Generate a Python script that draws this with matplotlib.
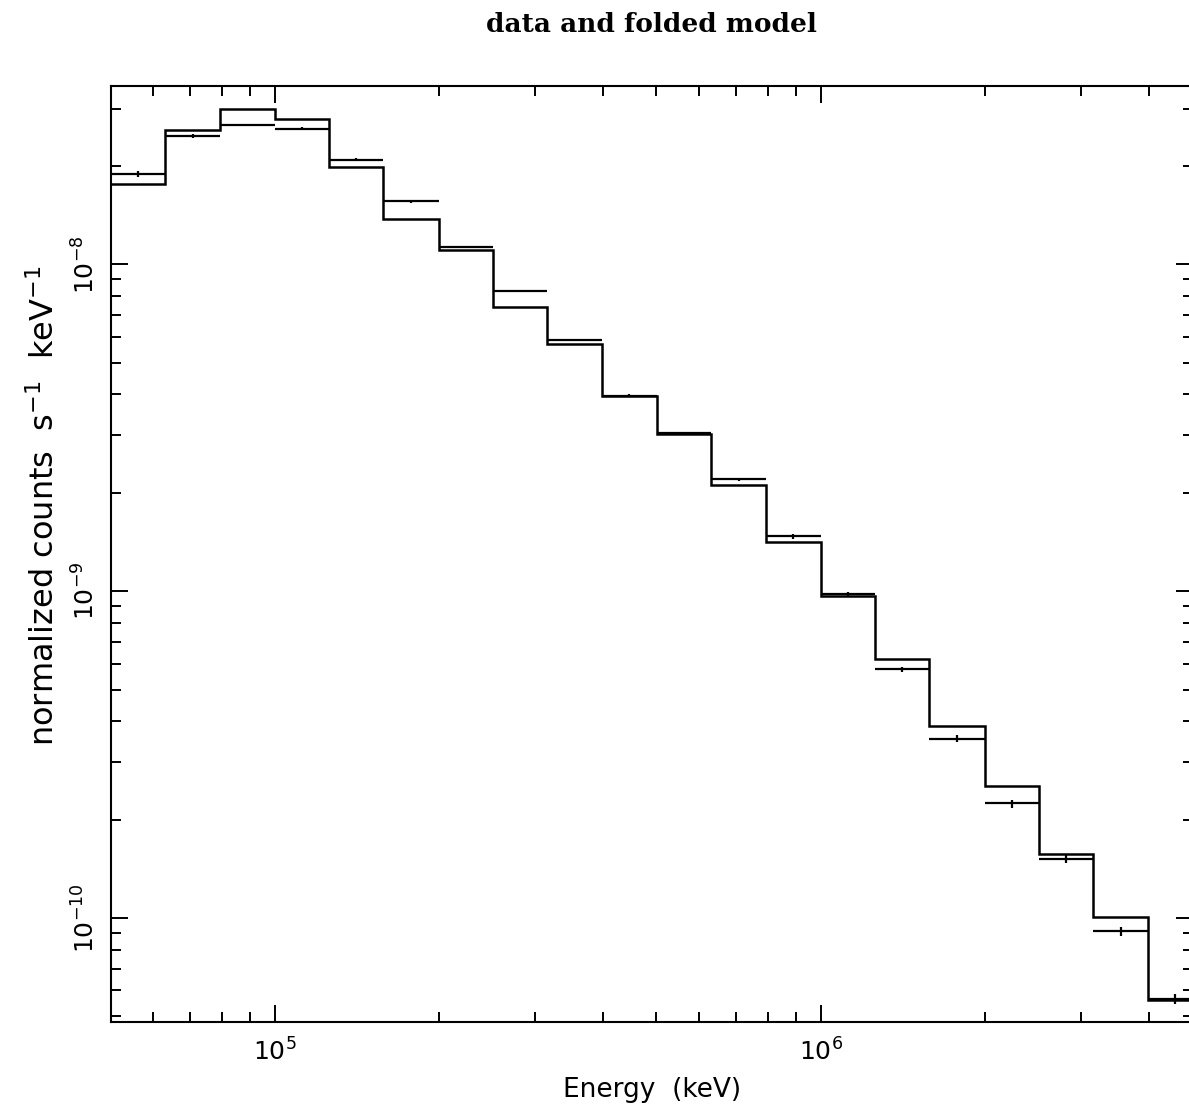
import matplotlib
matplotlib.use("Agg")
import matplotlib.pyplot as plt
import matplotlib.ticker as mticker
import numpy as np

# energy channel edges (keV)
edges = [5.01e4, 6.31e4, 7.94e4, 1.0e5, 1.26e5, 1.58e5, 2.0e5, 2.51e5, 3.16e5,
         3.98e5, 5.01e5, 6.31e5, 7.94e5, 1.0e6, 1.26e6, 1.58e6, 2.0e6, 2.51e6,
         3.16e6, 3.98e6, 5.01e6]

# data points (normalized counts s^-1 keV^-1)
data = [1.89e-8, 2.47e-8, 2.67e-8, 2.60e-8, 2.09e-8, 1.56e-8, 1.13e-8, 8.28e-9,
        5.87e-9, 3.97e-9, 3.04e-9, 2.20e-9, 1.47e-9, 9.80e-10, 5.77e-10,
        3.54e-10, 2.24e-10, 1.52e-10, 9.10e-11, 5.65e-11]
data_err = [4.0e-10, 3.5e-10, 2.7e-10, 2.6e-10, 2.1e-10, 1.6e-10, 9e-11, 6e-11,
            4e-11, 3.2e-11, 2.7e-11, 2.6e-11, 2.1e-11, 1.5e-11, 1.0e-11,
            7.8e-12, 6.3e-12, 4.3e-12, 2.9e-12, 2.0e-12]

# folded model
model = [1.76e-8, 2.58e-8, 2.99e-8, 2.78e-8, 1.99e-8, 1.38e-8, 1.11e-8, 7.43e-9,
         5.71e-9, 3.96e-9, 3.03e-9, 2.11e-9, 1.41e-9, 9.67e-10, 6.22e-10,
         3.87e-10, 2.53e-10, 1.57e-10, 1.01e-10, 5.62e-11]

edges = np.array(edges)
lo = edges[:-1]
hi = edges[1:]
mid = np.sqrt(lo * hi)

fig = plt.figure(figsize=(11.89, 11.04), dpi=100)
# right spine sits just past the image edge, like the original
ax = fig.add_axes([111 / 1189, 82 / 1104, (1193 - 111) / 1189, (1022 - 86) / 1104])

ax.errorbar(mid, data, xerr=[mid - lo, hi - mid], yerr=data_err,
            fmt="none", ecolor="black", elinewidth=1.6, capsize=0)
ax.stairs(model, edges, baseline=None, color="black", linewidth=1.8)

ax.set_xscale("log")
ax.set_yscale("log")
ax.set_xlim(10 ** 4.7005, 10 ** 6.682)
ax.set_ylim(10 ** -10.3185, 10 ** -7.454)

ax.yaxis.set_minor_formatter(mticker.NullFormatter())
ax.xaxis.set_minor_formatter(mticker.NullFormatter())
ax.tick_params(which="both", direction="in", top=True, right=True,
               width=1.4, colors="black", labelsize=18)
ax.tick_params(which="major", length=12)
ax.tick_params(which="minor", length=7)
ax.tick_params(axis="x", which="major", pad=12)
ax.tick_params(axis="y", which="major", pad=8)
plt.setp(ax.get_yticklabels(), rotation=90, va="center")
for s in ax.spines.values():
    s.set_linewidth(1.5)

ax.set_xlabel("Energy  (keV)", fontsize=19, labelpad=8)
ax.set_ylabel("normalized counts  s$^{-1}$  keV$^{-1}$", fontsize=23)
ax.yaxis.set_label_coords(-0.046, 0.552)

fig.text(0.548, 1 - 25 / 1104, "data and folded model", ha="center", va="center",
         fontsize=19, family="DejaVu Serif", weight="bold")

fig.savefig("out.png", dpi=100)
